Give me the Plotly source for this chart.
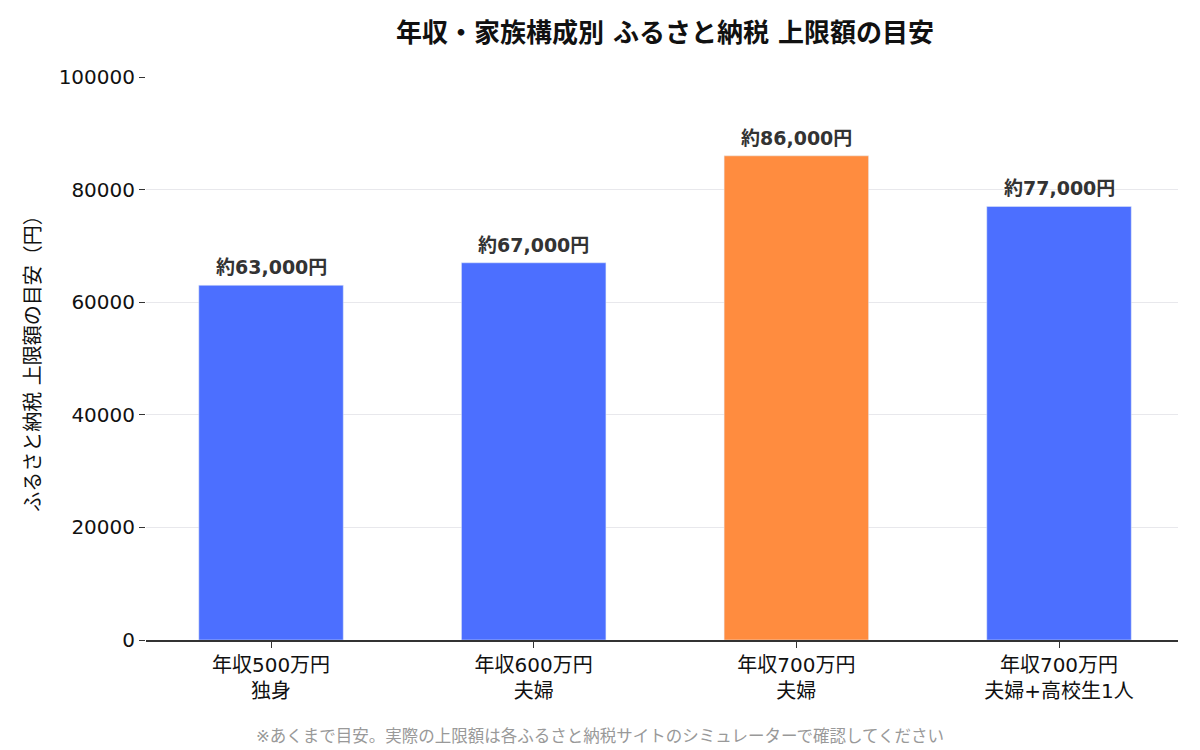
import plotly.graph_objects as go

categories = ["年収500万円<br>独身", "年収600万円<br>夫婦", "年収700万円<br>夫婦", "年収700万円<br>夫婦+高校生1人"]
limits = [63000, 67000, 86000, 77000]
labels = ["約63,000円", "約67,000円", "約86,000円", "約77,000円"]
highlight = 2

font = "DejaVu Sans, Noto Sans CJK JP"
colors = ["#FF8C3F" if i == highlight else "#4C6FFF" for i in range(len(categories))]

fig = go.Figure(go.Bar(x=categories, y=limits, marker_color=colors, width=0.55))

# value labels a bit above each bar
for cat, val, lab in zip(categories, limits, labels):
    fig.add_annotation(x=cat, y=val, text=lab, showarrow=False, yanchor="bottom", yshift=5,
                       font=dict(family=font, size=19, color="#333333", weight="bold"))

fig.update_layout(
    width=1200, height=750,
    title=dict(text="<b>年収・家族構成別 ふるさと納税 上限額の目安</b>", x=0.5475, y=0.967,
               xanchor="center", yanchor="middle", font=dict(family=font, size=26, color="#111111")),
    font=dict(family=font, size=20, color="#111111"),
    plot_bgcolor="white", paper_bgcolor="white",
    margin=dict(l=138, r=30, t=69, b=118),
    showlegend=False,
)
fig.update_xaxes(range=[-0.476, 3.453], showline=True, linecolor="#333333", linewidth=2,
                 ticks="outside", ticklen=6, tickcolor="#333333", tickfont=dict(size=20))
fig.update_yaxes(range=[0, 100000], dtick=20000, tickformat="d", showgrid=True, gridcolor="#E8E8EC",
                 ticks="outside", ticklen=6, tickcolor="#333333", zeroline=False,
                 tickfont=dict(size=20),
                 title=dict(text="ふるさと納税 上限額の目安（円）", font=dict(size=20), standoff=12))

fig.add_annotation(text="※あくまで目安。実際の上限額は各ふるさと納税サイトのシミュレーターで確認してください",
                   xref="paper", yref="paper", x=0.4404, y=-0.172, yanchor="middle", showarrow=False,
                   font=dict(family=font, size=16.5, color="#999999"))

fig.write_html("out.html")
